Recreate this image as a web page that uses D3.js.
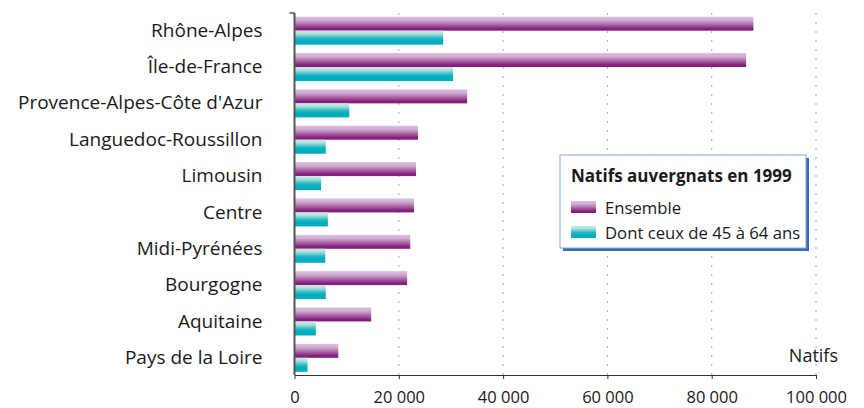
<!DOCTYPE html>
<html><head><meta charset="utf-8">
<script src="https://cdn.jsdelivr.net/npm/d3@7"></script>
<style>
html,body{margin:0;padding:0;background:#fff;}
svg{display:block;font-family:"Open Sans",Lato,sans-serif;}
</style></head>
<body>
<svg id="chart" width="864" height="408"></svg>
<script>
const categories = ["Rhône-Alpes","Île-de-France","Provence-Alpes-Côte d'Azur","Languedoc-Roussillon","Limousin","Centre","Midi-Pyrénées","Bourgogne","Aquitaine","Pays de la Loire"];
const ensemble = [88000, 86600, 33100, 23700, 23300, 22900, 22200, 21600, 14700, 8400];
const age45_64 = [28500, 30400, 10500, 6000, 5100, 6400, 5900, 6000, 4100, 2500];
const tickValues = [0, 20000, 40000, 60000, 80000, 100000];
const seriesNames = ["Ensemble", "Dont ceux de 45 à 64 ans"];
const legendTitle = "Natifs auvergnats en 1999";
const unitLabel = "Natifs";

const FONT = "'Open Sans', Lato, sans-serif";
const svg = d3.select("#chart");
const x = d3.scaleLinear().domain([0, 100000]).range([294.5, 816]);
const y = d3.scaleBand().domain(categories).range([12.5, 376]).paddingInner(0.23).paddingOuter(0.115);
const sub = d3.scaleBand().domain([0,1]).range([0, y.bandwidth()]);
const fr = d3.formatLocale({decimal:",", thousands:" ", grouping:[3], currency:["","€"]});
const fmt = fr.format(",d");

const defs = svg.append("defs");
const gp = defs.append("linearGradient").attr("id","gPurple").attr("x1",0).attr("y1",0).attr("x2",0).attr("y2",1);
gp.append("stop").attr("offset","0%").attr("stop-color","#dcc0de");
gp.append("stop").attr("offset","25%").attr("stop-color","#d0acd2");
gp.append("stop").attr("offset","70%").attr("stop-color","#9a4690");
gp.append("stop").attr("offset","85%").attr("stop-color","#85207e");
gp.append("stop").attr("offset","100%").attr("stop-color","#831c7c");
const gt = defs.append("linearGradient").attr("id","gTeal").attr("x1",0).attr("y1",0).attr("x2",0).attr("y2",1);
gt.append("stop").attr("offset","0%").attr("stop-color","#c8eae4");
gt.append("stop").attr("offset","20%").attr("stop-color","#b2e2dc");
gt.append("stop").attr("offset","55%").attr("stop-color","#22b6c4");
gt.append("stop").attr("offset","70%").attr("stop-color","#00aec0");
gt.append("stop").attr("offset","100%").attr("stop-color","#00abbe");
const fills = ["url(#gPurple)","url(#gTeal)"];

// gridlines
svg.append("g").selectAll("line").data(tickValues.slice(1)).join("line")
  .attr("x1", d => x(d)).attr("x2", d => x(d))
  .attr("y1", 13).attr("y2", 375)
  .attr("stroke", "#9db6e0").attr("stroke-width", 1.2)
  .attr("stroke-dasharray", "2,7");

// bars
const rows = svg.append("g").selectAll("g").data(categories).join("g")
  .attr("transform", d => `translate(0,${y(d)})`);
rows.selectAll("rect").data((d,i) => [ensemble[i], age45_64[i]]).join("rect")
  .attr("x", x(0))
  .attr("y", (d,j) => sub(j))
  .attr("width", d => x(d) - x(0))
  .attr("height", sub.bandwidth())
  .attr("fill", (d,j) => fills[j]);

// x axis
const xAxis = d3.axisBottom(x).tickValues(tickValues).tickFormat(fmt).tickSize(4).tickSizeOuter(0);
const gx = svg.append("g").attr("transform","translate(0,375)").call(xAxis);
gx.select(".domain").attr("stroke","#333").attr("stroke-width",1.2);
gx.selectAll(".tick line").attr("stroke","#333");
gx.selectAll(".tick text").attr("font-size",16.5).attr("fill","#1a1a1a").attr("dy","1.3em").attr("font-family",FONT);

// y axis labels
const yAxis = d3.axisLeft(y).tickSize(0).tickPadding(32);
const gy = svg.append("g").attr("transform",`translate(${x(0)},0)`).call(yAxis);
gy.select(".domain").remove();
gy.selectAll(".tick text").attr("font-size",19).attr("fill","#1a1a1a").attr("font-family",FONT);
svg.append("line").attr("x1", x(0)).attr("x2", x(0)).attr("y1", 13).attr("y2", 375)
  .attr("stroke","#555").attr("stroke-width",2);
svg.append("line").attr("x1", x(0)-5).attr("x2", x(0)).attr("y1", 13).attr("y2", 13)
  .attr("stroke","#555").attr("stroke-width",1.5);

// unit label
svg.append("text").attr("x", 838).attr("y", 362).attr("text-anchor","end")
  .attr("font-size",18).attr("fill","#1a1a1a").text(unitLabel);

// legend
const lg = svg.append("g");
lg.append("rect").attr("x",563).attr("y",158).attr("width",246).attr("height",93).attr("fill","#3b6bb5");
lg.append("rect").attr("x",560).attr("y",155).attr("width",246).attr("height",93)
  .attr("fill","#fff").attr("stroke","#86a6dc").attr("stroke-width",1);
lg.append("text").attr("x",571).attr("y",182).attr("font-size",17).attr("font-weight","bold")
  .attr("fill","#1a1a1a").text(legendTitle);
const li = lg.selectAll("g.item").data(seriesNames).join("g").attr("class","item")
  .attr("transform",(d,i)=>`translate(571,${201 + i*25})`);
li.append("rect").attr("width",25).attr("height",12).attr("fill",(d,i)=>fills[i]);
li.append("text").attr("x",34).attr("y",12.5).attr("font-size",16.7).attr("fill","#1a1a1a").text(d=>d);
</script>
</body></html>
